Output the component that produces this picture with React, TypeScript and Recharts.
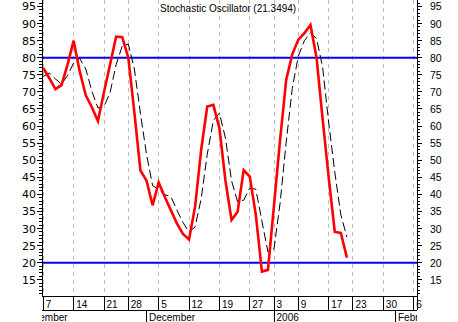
import React from "react";
import { LineChart, Line, XAxis, YAxis, CartesianGrid, ReferenceLine } from "recharts";

// ---- data ----
const tradingDays = [
  "2005-11-01", "2005-11-02", "2005-11-03", "2005-11-04",
  "2005-11-07", "2005-11-08", "2005-11-09", "2005-11-10", "2005-11-11",
  "2005-11-14", "2005-11-15", "2005-11-16", "2005-11-17", "2005-11-18",
  "2005-11-21", "2005-11-22", "2005-11-23", "2005-11-25",
  "2005-11-28", "2005-11-29", "2005-11-30", "2005-12-01", "2005-12-02",
  "2005-12-05", "2005-12-06", "2005-12-07", "2005-12-08", "2005-12-09",
  "2005-12-12", "2005-12-13", "2005-12-14", "2005-12-15", "2005-12-16",
  "2005-12-19", "2005-12-20", "2005-12-21", "2005-12-22", "2005-12-23",
  "2005-12-27", "2005-12-28", "2005-12-29", "2005-12-30",
  "2006-01-03", "2006-01-04", "2006-01-05", "2006-01-06",
  "2006-01-09", "2006-01-10", "2006-01-11", "2006-01-12", "2006-01-13",
  "2006-01-17", "2006-01-18", "2006-01-19", "2006-01-20",
  "2006-01-23", "2006-01-24", "2006-01-25", "2006-01-26", "2006-01-27",
  "2006-01-30", "2006-01-31", "2006-02-01", "2006-02-02", "2006-02-03",
  "2006-02-06", "2006-02-07",
];

const firstDataDay = "2005-11-07";

// %K (red)
const kValues = [
  77, 74, 70.8, 72, 78,
  85, 76, 69, 65.5, 61.5,
  70, 78, 86.2, 86,
  80, 64, 47, 44, 36.8,
  43.5, 39.3, 35.4, 31.5, 28.4,
  26.8, 36.4, 53, 65.7, 66.2,
  59.4, 44, 32.5, 34.9, 47.1,
  45.2, 34, 17.4, 17.9,
  37, 56, 73.5, 81,
  85.3, 87.2, 89.6, 80, 62,
  45, 29, 28.7, 21.5,
];

// %D (black dashed)
const dValues = [
  74.5, 75.5, 73.8, 72.3, 74.8,
  78.5, 79.8, 76.7, 70.2, 65.3,
  65.7, 69.8, 78, 83.4,
  84, 76.7, 63.7, 51.7, 42.6,
  41.4, 39.9, 39.4, 35.4, 31.8,
  28.9, 30.5, 38.7, 51.7, 61.6,
  63.8, 56.5, 44, 37.8, 38.3,
  41.8, 41.5, 32.2, 23.1,
  24.1, 37.5, 55.3, 71,
  80.5, 85, 87.3, 85.6, 77.2,
  61, 46.5, 34, 27.5,
];

const monthStarts = ["2005-11-01", "2005-12-01", "2006-01-03", "2006-02-01"];
const monthLabels = ["November", "December", "2006", "February"];

const yMinorTicks = Array.from({ length: 86 }, (_, i) => 11 + i); // 11..96
const yLabelStep = 5;

const title = "Stochastic Oscillator (21.3494)";
const upperLevel = 80;
const lowerLevel = 20;

// ---- layout ----
const W = 458;
const H = 322;
const LEFT_W = 42;
const RIGHT_W = 41;
const WEEK_H = 14;
const MONTH_H = 12;
const PLOT_BOTTOM = H - WEEK_H - MONTH_H;
const X_DOMAIN: [number, number] = [3.79, 65.54];
const Y_DOMAIN: [number, number] = [10.25, 96.9];
const WEEK_AXIS = 0;
const MONTH_AXIS = 1;

// ---- derived ----
const startIdx = tradingDays.indexOf(firstDataDay);
const data = kValues.map((k, i) => ({
  x: startIdx + i,
  date: tradingDays[startIdx + i],
  k,
  d: dValues[i],
}));

const dow = (s: string) => new Date(s + "T00:00:00Z").getUTCDay();
const weekTicks: number[] = [];
tradingDays.forEach((d, i) => {
  if (i === 0 || dow(d) < dow(tradingDays[i - 1])) {
    if (i >= X_DOMAIN[0] && i <= X_DOMAIN[1]) weekTicks.push(i);
  }
});
const monthTicks = monthStarts.map((m) => tradingDays.indexOf(m));

const FONT_X = "'Liberation Sans', Arial, sans-serif";
const FONT_Y = "'DejaVu Sans', sans-serif";

const LeftTick = (props: any) => {
  const { x, y, payload } = props;
  const v = payload.value;
  const major = v % yLabelStep === 0;
  return (
    <g>
      <line x1={x - (major ? 5 : 3)} x2={x} y1={y} y2={y} stroke="#000" shapeRendering="crispEdges" />
      {major && (
        <text x={x - 6} y={y} dy={4} textAnchor="end" fontFamily={FONT_Y} fontSize={11} fill="#000">
          {v}
        </text>
      )}
    </g>
  );
};

const RightTick = (props: any) => {
  const { x, y, payload } = props;
  const v = payload.value;
  const major = v % yLabelStep === 0;
  return (
    <g>
      <line x1={x} x2={x + (major ? 5 : 3)} y1={y} y2={y} stroke="#000" shapeRendering="crispEdges" />
      {v === yMinorTicks[0] && (
        <line x1={x} x2={x} y1={y} y2={PLOT_BOTTOM + WEEK_H} stroke="#000" shapeRendering="crispEdges" />
      )}
      {major && (
        <text x={x + 13} y={y} dy={4} textAnchor="start" fontFamily={FONT_X} fontSize={10.5} fill="#000">
          {v}
        </text>
      )}
    </g>
  );
};

const WeekTick = (props: any) => {
  const { x, y, payload } = props;
  const day = tradingDays[payload.value];
  const label = String(Number(day.slice(8, 10)));
  return (
    <g>
      <line x1={x} x2={x} y1={y} y2={y + WEEK_H} stroke="#000" shapeRendering="crispEdges" />
      <text x={x + 2.5} y={y + 11.5} fontFamily={FONT_X} fontSize={10} fill="#000">
        {label}
      </text>
    </g>
  );
};

const MonthTick = (props: any) => {
  const { x, y, payload } = props;
  const i = monthTicks.indexOf(payload.value);
  const plotW = W - LEFT_W - RIGHT_W;
  return (
    <svg x={LEFT_W} y={y} width={plotW} height={MONTH_H} overflow="hidden">
      <line x1={x - LEFT_W} x2={x - LEFT_W} y1={0} y2={MONTH_H} stroke="#000" shapeRendering="crispEdges" />
      <text x={x - LEFT_W + 2.5} y={11} fontFamily={FONT_X} fontSize={10} fill="#000">
        {monthLabels[i]}
      </text>
    </svg>
  );
};

export default function App() {
  return (
    <div style={{ position: "absolute", left: 0, top: 0, width: W, height: H, background: "#fff" }}>
      <LineChart width={W} height={H} data={data} margin={{ top: 0, right: 0, bottom: 0, left: 0 }}>
        <CartesianGrid
          xAxisId={WEEK_AXIS}
          yAxisId="l"
          horizontal={false}
          stroke="#bdbdbd"
          strokeDasharray="4 4"
          shapeRendering="crispEdges"
        />
        <XAxis
          xAxisId={WEEK_AXIS}
          dataKey="x"
          type="number"
          domain={X_DOMAIN}
          allowDataOverflow
          ticks={weekTicks}
          interval={0}
          height={WEEK_H}
          tickSize={0}
          tickMargin={0}
          tickLine={false}
          axisLine={{ stroke: "#000", shapeRendering: "crispEdges" }}
          tick={<WeekTick />}
        />
        <XAxis
          xAxisId={MONTH_AXIS}
          dataKey="x"
          type="number"
          domain={X_DOMAIN}
          allowDataOverflow
          ticks={monthTicks}
          interval={0}
          height={MONTH_H}
          tickSize={0}
          tickMargin={0}
          tickLine={false}
          axisLine={{ stroke: "#000", shapeRendering: "crispEdges" }}
          tick={<MonthTick />}
        />
        <YAxis
          yAxisId="l"
          orientation="left"
          type="number"
          domain={Y_DOMAIN}
          allowDataOverflow
          ticks={yMinorTicks}
          interval={0}
          width={LEFT_W}
          tickSize={0}
          tickMargin={0}
          tickLine={false}
          axisLine={{ stroke: "#000", shapeRendering: "crispEdges" }}
          tick={<LeftTick />}
        />
        <YAxis
          yAxisId="r"
          orientation="right"
          type="number"
          domain={Y_DOMAIN}
          allowDataOverflow
          ticks={yMinorTicks}
          interval={0}
          width={RIGHT_W}
          tickSize={0}
          tickMargin={0}
          tickLine={false}
          axisLine={{ stroke: "#000", shapeRendering: "crispEdges" }}
          tick={<RightTick />}
        />
        <ReferenceLine xAxisId={WEEK_AXIS} yAxisId="l" y={upperLevel} stroke="#0000ff" strokeWidth={2} />
        <ReferenceLine xAxisId={WEEK_AXIS} yAxisId="l" y={lowerLevel} stroke="#0000ff" strokeWidth={2} />
        <Line
          xAxisId={WEEK_AXIS}
          yAxisId="l"
          type="linear"
          dataKey="d"
          stroke="#000"
          strokeWidth={1}
          strokeDasharray="9 4"
          dot={false}
          activeDot={false}
          isAnimationActive={false}
        />
        <Line
          xAxisId={WEEK_AXIS}
          yAxisId="l"
          type="linear"
          dataKey="k"
          stroke="#ff0000"
          strokeWidth={2.6}
          dot={false}
          activeDot={false}
          isAnimationActive={false}
        />
      </LineChart>
      <div
        style={{
          position: "absolute",
          left: 160,
          top: 4,
          fontFamily: FONT_X,
          fontSize: 10,
          lineHeight: "10px",
          color: "#000",
          whiteSpace: "nowrap",
        }}
      >
        {title}
      </div>
    </div>
  );
}
